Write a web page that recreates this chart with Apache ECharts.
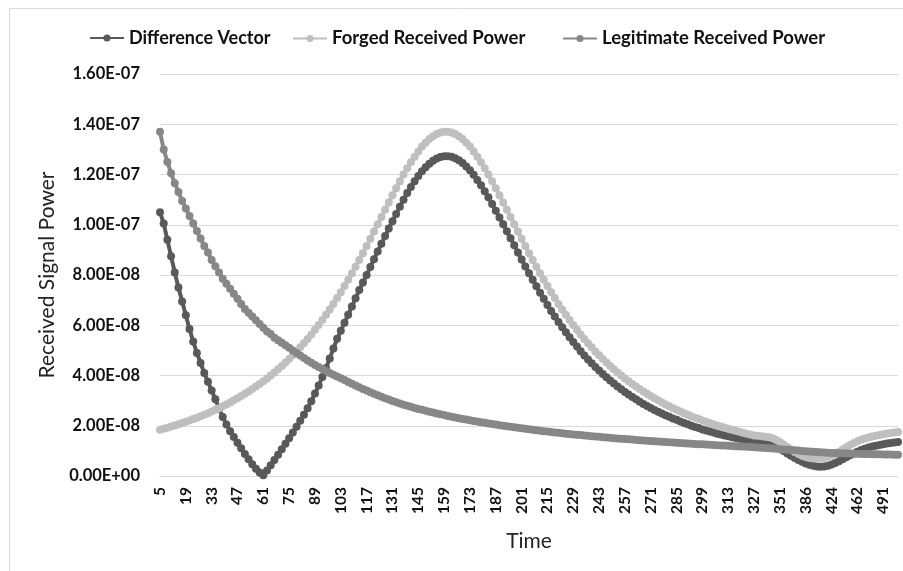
<!DOCTYPE html>
<html>
<head>
<meta charset="utf-8">
<script src="https://cdn.jsdelivr.net/npm/echarts@6/dist/echarts.min.js"></script>
<style>
html,body{margin:0;padding:0;background:#fff;}
#chart{width:903px;height:571px;}
</style>
</head>
<body>
<div id="chart"></div>
<script>
// Time categories (x axis)
const times = [5,7,9,11,13,15,17,19,21,23,25,27,29,31,33,35,37,39,41,43,45,47,49,51,53,55,57,59,61,63,65,67,69,71,73,75,77,79,81,83,85,87,89,91,93,95,97,99,101,103,105,107,109,111,113,115,117,119,121,123,125,127,129,131,133,135,137,139,141,143,145,147,149,151,153,155,157,159,161,163,165,167,169,171,173,175,177,179,181,183,185,187,189,191,193,195,197,199,201,203,205,207,209,211,213,215,217,219,221,223,225,227,229,231,233,235,237,239,241,243,245,247,249,251,253,255,257,259,261,263,265,267,269,271,273,275,277,279,281,283,285,287,289,291,293,295,297,299,301,303,305,307,309,311,313,315,317,319,321,323,325,327,330,333,337,340,344,347,351,356,361,366,371,376,381,386,391,397,402,408,413,419,424,429,435,440,446,451,457,462,466,470,474,479,483,487,491,495,499,503,507];

// Values in units of 1E-09
const differenceVector = [105,100.5,94,87.5,81,75,69.5,64,58.5,53.5,
49,45,41,37.5,34,30.5,27,23.5,20.5,17.8,
15.5,13.2,11,8.8,6.7,4.7,2.9,1.4,0.3,2.2,
4.3,6.4,8.5,10.6,12.8,15.0,17.3,19.6,22.0,24.4,
27.0,29.8,32.8,36.0,39.4,43.0,46.8,50.7,54.6,57.8,
61.0,64.2,67.5,70.7,74.0,77.0,80.0,83.2,86.3,89.4,
92.4,95.5,98.5,101.4,104.3,107.2,110.0,112.6,115.0,117.3,
119.4,121.3,122.9,124.3,125.5,126.4,127.0,127.3,127.3,127.1,
126.5,125.7,124.6,123.2,121.7,119.9,117.8,115.7,113.3,110.9,
108.3,105.6,102.9,100.2,97.4,94.6,91.8,89.0,86.2,83.4,
80.7,78.1,75.5,72.9,70.5,68.1,65.7,63.5,61.3,59.2,
57.2,55.2,53.3,51.5,49.7,48.0,46.4,44.9,43.4,42.0,
40.6,39.3,38.0,36.8,35.6,34.5,33.4,32.4,31.4,30.5,
29.6,28.7,27.9,27.1,26.3,25.6,24.9,24.2,23.6,22.9,
22.4,21.7,21.1,20.6,20.0,19.5,19.1,18.5,18.1,17.7,
17.3,16.8,16.5,16.1,15.8,15.4,15.1,14.8,14.5,14.1,
13.9,13.6,13.4,13.3,13.2,13.0,12.6,11.8,11.0,10.0,
9.0,8.1,7.2,6.4,5.7,5.0,4.5,4.1,3.8,3.7,
3.8,4.1,4.6,5.2,5.9,6.7,7.5,8.3,9.0,9.7,
10.3,10.8,11.3,11.7,12.0,12.3,12.6,12.9,13.1,13.3,13.5];

const forgedReceivedPower = [18.4,18.8,19.2,19.7,20.1,20.6,21.1,21.6,22.1,22.7,
23.2,23.8,24.4,25.0,25.7,26.4,27.0,27.8,28.5,29.3,
30.1,30.9,31.8,32.7,33.6,34.6,35.6,36.6,37.7,38.8,
40.0,41.2,42.5,43.8,45.2,46.6,48.1,49.6,51.2,52.8,
54.5,56.3,58.2,60.1,62.1,64.2,66.3,68.5,70.8,73.1,
75.6,78.1,80.6,83.3,86.0,88.7,91.5,94.4,97.3,100.2,
103.1,106.0,108.9,111.7,114.5,117.3,120.0,122.5,124.9,127.1,
129.2,131.1,132.6,134.1,135.2,136.1,136.7,137.0,137.0,136.7,
136.1,135.2,134.1,132.6,131.1,129.2,127.1,124.9,122.5,120.0,
117.3,114.5,111.7,108.9,106.0,103.1,100.2,97.3,94.4,91.5,
88.7,86.0,83.3,80.6,78.1,75.6,73.1,70.8,68.5,66.3,
64.2,62.1,60.1,58.2,56.3,54.5,52.8,51.2,49.6,48.1,
46.6,45.2,43.8,42.5,41.2,40.0,38.8,37.7,36.6,35.6,
34.6,33.6,32.7,31.8,30.9,30.1,29.3,28.5,27.8,27.0,
26.4,25.7,25.0,24.4,23.8,23.2,22.7,22.1,21.6,21.1,
20.6,20.1,19.7,19.2,18.8,18.4,18.0,17.6,17.2,16.8,
16.5,16.1,16.0,15.8,15.6,15.4,15.0,14.3,13.5,12.5,
11.5,10.5,9.6,8.8,8.1,7.6,7.2,7.0,6.9,7.0,
7.2,7.6,8.1,8.8,9.6,10.5,11.4,12.3,13.1,13.8,
14.4,14.9,15.3,15.7,16.0,16.3,16.6,16.9,17.1,17.3,17.5];

const legitimateReceivedPower = [137,130,125,120.5,116.5,113,109.5,106.5,103.5,100.5,
97.5,94.5,91.5,89,86,83.5,81,78.5,76.5,74.5,
72.5,70.5,68.5,66.5,65,63.5,62,60.5,59,57.5,
56.5,55,54,53,52,51,50,49,48,47,
46.0,45.1,44.2,43.4,42.6,41.8,41.0,40.3,39.6,38.9,
38.2,37.4,36.7,36.0,35.3,34.6,34.0,33.3,32.7,32.1,
31.5,30.9,30.4,29.9,29.4,28.9,28.4,28.0,27.6,27.1,
26.7,26.4,26.0,25.6,25.3,24.9,24.6,24.3,23.9,23.6,
23.3,23.0,22.7,22.5,22.2,21.9,21.7,21.4,21.2,20.9,
20.7,20.5,20.2,20.0,19.8,19.6,19.4,19.2,19.0,18.8,
18.6,18.4,18.2,18.0,17.8,17.7,17.5,17.3,17.2,17.0,
16.8,16.7,16.5,16.4,16.3,16.1,16.0,15.8,15.7,15.6,
15.4,15.3,15.2,15.0,14.9,14.8,14.7,14.6,14.5,14.3,
14.2,14.1,14.0,13.9,13.8,13.7,13.6,13.5,13.4,13.3,
13.2,13.1,13.0,12.9,12.8,12.7,12.6,12.6,12.5,12.4,
12.3,12.2,12.1,12.1,12.0,11.9,11.8,11.7,11.7,11.6,
11.5,11.4,11.3,11.2,11.1,11.0,10.9,10.8,10.6,10.5,
10.4,10.3,10.2,10.1,10.0,9.9,9.8,9.7,9.6,9.5,
9.4,9.3,9.2,9.2,9.1,9.1,9.0,9.0,8.9,8.9,
8.8,8.8,8.8,8.7,8.7,8.7,8.6,8.6,8.6,8.5,8.5];

const seriesNames = ['Difference Vector','Forged Received Power','Legitimate Received Power'];
const seriesColors = ['#595959','#bfbfbf','#878787'];

function fmtE(v){
  if (v === 0) return '0.00E+00';
  let e = Math.floor(Math.log10(v) + 1e-9);
  let m = v / Math.pow(10, e);
  let exp = e - 9;
  return m.toFixed(2) + 'E' + (exp < 0 ? '-' : '+') + String(Math.abs(exp)).padStart(2,'0');
}

const FONT = 'Lato';
const chart = echarts.init(document.getElementById('chart'), null, {renderer:'canvas'});
const dataSets = [differenceVector, forgedReceivedPower, legitimateReceivedPower];
const legendLefts = [84, 287, 557];
const legendFontSizes = [18, 18.5, 18.5];

chart.setOption({
  animation: false,
  backgroundColor: '#ffffff',
  graphic: [{
    type: 'rect', left: 7, top: 6, z: -1,
    shape: {width: 1000, height: 1000},
    style: {fill: 'none', stroke: '#d9d9d9', lineWidth: 1}
  }],
  legend: seriesNames.map((n, k) => ({
    top: 24, left: legendLefts[k],
    itemWidth: 34, itemHeight: 9, itemGap: 4,
    textStyle: {fontFamily: FONT, fontWeight: 'bold', fontSize: legendFontSizes[k], color: '#111'},
    data: [n]
  })),
  grid: {left: 160, right: 5, top: 74, bottom: 95},
  xAxis: {
    type: 'category',
    data: times,
    boundaryGap: false,
    name: 'Time',
    nameLocation: 'middle',
    nameGap: 55,
    nameTextStyle: {fontFamily: FONT, fontSize: 21, color: '#222'},
    axisLine: {show: true, lineStyle: {color: '#d9d9d9'}},
    axisTick: {show: false},
    axisLabel: {interval: 6, rotate: 90, fontFamily: FONT, fontWeight: 'bold', fontSize: 15.5, color: '#111', margin: 11}
  },
  yAxis: {
    type: 'value',
    min: 0, max: 160, interval: 20,
    name: 'Received Signal Power',
    nameLocation: 'middle',
    nameGap: 102,
    nameTextStyle: {fontFamily: FONT, fontSize: 21, color: '#222'},
    axisLine: {show: false},
    axisTick: {show: false},
    splitLine: {lineStyle: {color: '#d9d9d9', width: 1}},
    axisLabel: {formatter: fmtE, fontFamily: FONT, fontWeight: 'bold', fontSize: 16.5, color: '#111', margin: 20}
  },
  series: seriesNames.map((n, k) => ({
    name: n,
    type: 'line',
    data: dataSets[k],
    color: seriesColors[k],
    symbol: 'circle',
    symbolSize: 8,
    showAllSymbol: true,
    lineStyle: {width: 4, color: seriesColors[k]},
    itemStyle: {color: seriesColors[k]},
    z: 2 + k
  }))
});
</script>
</body>
</html>
